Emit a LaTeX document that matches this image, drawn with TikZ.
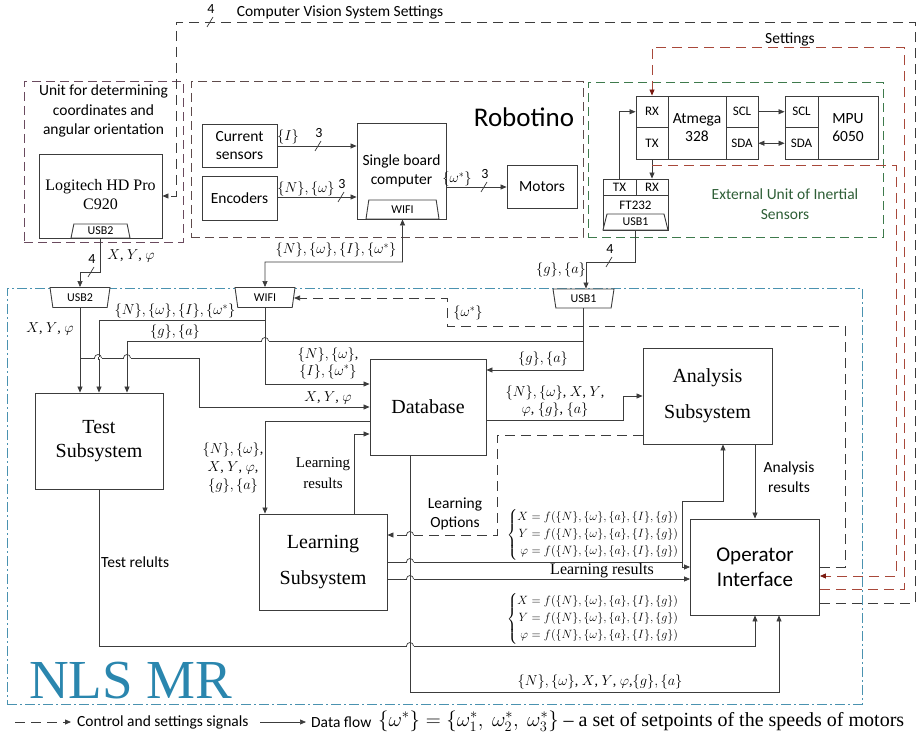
\documentclass[tikz,border=0pt]{standalone}
\usepackage{fontspec}
\usepackage{amsmath}
\setmainfont{Liberation Serif}
\setsansfont{Carlito}
\usepackage{tikz}
\usetikzlibrary{positioning}
\usetikzlibrary{arrows.meta}
\usetikzlibrary{shapes.geometric}
\definecolor{wire}{HTML}{3C3C3C}
\definecolor{unitcol}{HTML}{6A4A5E}
\definecolor{robcol}{HTML}{5E4A4A}
\definecolor{extcol}{HTML}{3E7A4C}
\definecolor{exttext}{HTML}{2E5E36}
\definecolor{nlscol}{HTML}{4A92B0}
\definecolor{nlstext}{HTML}{2A86AE}
\definecolor{setcol}{HTML}{A8483A}
\definecolor{settip}{HTML}{7A1A10}
\newcommand \fsz [2] {\fontsize{#1}{#2}\selectfont}
\newcommand \busmark [4] {
	\draw [wire, line width=0.7pt] (#1-3,#2+5) -- (#1+3,#2-5) ;
	\node [font=\sffamily\fsz{14}{16}, inner sep=0pt] (#4) at (#1+1,#2-13) {#3} ;
}
\newcommand \hop [2] {
	\fill [white] (#1-3.5,#2-1.2) rectangle (#1+3.5,#2+1.2) ;
	\draw [wire, line width=0.7pt] (#1,#2-1.5) -- (#1,#2+1.5) ;
	\draw [wire, line width=0.7pt] (#1-3.5,#2) arc [start angle=180, end angle=360, radius=3.5] ;
}
\newcommand \feqs {$\left\{\begin{aligned}
	X&=f(\{N\},\{\omega\},\{a\},\{I\},\{g\})\\
	Y&=f(\{N\},\{\omega\},\{a\},\{I\},\{g\})\\
	\varphi&=f(\{N\},\{\omega\},\{a\},\{I\},\{g\})
	\end{aligned}\right.$}
\tikzset{
	box/.style={
		draw=wire,
		line width=0.9pt,
		fill=white,
		align=center,
		inner sep=0pt,
		font=\sffamily\fsz{15.5}{18}
	},
	pinbox/.style={
		box,
		font=\sffamily\fsz{13}{15}
	},
	bigbox/.style={
		box,
		font=\fsz{20}{24}
	},
	port/.style={
		trapezium,
		trapezium angle=#1,
		trapezium stretches body,
		draw=wire,
		line width=0.9pt,
		fill=white,
		inner sep=0pt,
		font=\sffamily\fsz{12}{14}
	},
	port/.default={70},
	group/.style={
		draw=#1,
		line width=0.9pt,
		dash pattern=on 9pt off 5pt
	},
	flow/.style={
		draw=wire,
		line width=0.7pt,
		-{Triangle[length=6pt,width=5pt]}
	},
	ctrl/.style={
		flow,
		line width=0.8pt,
		dash pattern=on 10pt off 6pt
	},
	setsig/.style={
		ctrl,
		draw=setcol,
		-{Triangle[length=6pt,width=5pt,color=settip]}
	},
	mlab/.style={
		font=\fsz{14}{17},
		align=center,
		inner sep=1pt
	},
	slab/.style={
		font=\sffamily\fsz{15.5}{19.5},
		align=center,
		inner sep=1pt
	}
}

\begin{document}
\begin{tikzpicture} [x=1pt, y=-1pt]
	\useasboundingbox (0,0) rectangle (921,735) ;

	\node [group=nlscol, dash pattern=on 10pt off 3pt on 2pt off 3pt, minimum width=855, minimum height=416] (nls) at (434.5,496) {} ;
	\node [group=unitcol, minimum width=159, minimum height=161] (unit) at (103.5,161.5) {} ;
	\node [group=robcol, minimum width=392, minimum height=156] (robotino) at (387,159) {} ;
	\node [group=extcol, minimum width=295, minimum height=155] (ext) at (735.5,159.5) {} ;

	\node [slab, below=3pt of unit.north] (unittext) {Unit for determining\\coordinates and\\angular orientation} ;
	\node [box, minimum width=123, minimum height=84] (logi) at (100.5,196) {} ;
	\node [font=\fsz{16}{19}, align=center] (logitext) at (100.5,195) {Logitech HD Pro\\C920} ;
	\node [port, minimum width=59, minimum height=14] (logiusb) at (100.5,231) {USB2} ;

	\node [font=\sffamily\fsz{27}{30}] (robname) at (524,117) {Robotino} ;
	\node [box, minimum width=75, minimum height=43] (cursens) at (239.5,145.5) {Current\\sensors} ;
	\node [box, minimum width=75, minimum height=44] (enc) at (239.5,198) {Encoders} ;
	\node [box, minimum width=89, minimum height=96] (sbc) at (401.5,171) {} ;
	\node [font=\sffamily\fsz{15.5}{19}, align=center] (sbctext) at (401.5,171) {Single board\\computer} ;
	\node [port, minimum width=73, minimum height=19] (sbcwifi) at (402.5,209.5) {WIFI} ;
	\node [box, minimum width=70, minimum height=43] (motors) at (542,186.5) {Motors} ;

	\node [box, minimum width=58, minimum height=63] (atmega) at (697,127.5) {Atmega\\328} ;
	\node [pinbox, minimum width=32, minimum height=31.5] (rxa) at (652,111.75) {RX} ;
	\node [pinbox, minimum width=32, minimum height=31.5] (txa) at (652,143.25) {TX} ;
	\node [pinbox, minimum width=32, minimum height=31.5] (scla) at (742,111.75) {SCL} ;
	\node [pinbox, minimum width=32, minimum height=31.5] (sdaa) at (742,143.25) {SDA} ;
	\node [box, minimum width=60, minimum height=63] (mpu) at (848,127.5) {MPU\\6050} ;
	\node [pinbox, minimum width=33, minimum height=31.5] (sclm) at (801.5,111.75) {SCL} ;
	\node [pinbox, minimum width=33, minimum height=31.5] (sdam) at (801.5,143.25) {SDA} ;
	\node [pinbox, minimum width=33, minimum height=16] (txf) at (619.5,187) {TX} ;
	\node [pinbox, minimum width=32, minimum height=16] (rxf) at (652,187) {RX} ;
	\node [box, minimum width=65, minimum height=35] (ft) at (635.5,212.5) {} ;
	\node [font=\sffamily\fsz{13}{15}, inner sep=0pt] (fttext) at (635.5,205) {FT232} ;
	\node [port=63, minimum width=65, minimum height=16] (ftusb) at (635.5,222) {USB1} ;
	\node [slab, text=exttext] (exttext) at (785,204) {External Unit of Inertial\\Sensors} ;

	\node [port=110, minimum width=60, minimum height=20] (usbb) at (80,297.5) {USB2} ;
	\node [port=110, minimum width=60, minimum height=20] (wifib) at (265,297.5) {WIFI} ;
	\node [port=110, minimum width=61, minimum height=19] (usbone) at (583.5,298.5) {USB1} ;
	\node [bigbox, minimum width=128, minimum height=96] (test) at (99,441) {Test\\Subsystem} ;
	\node [bigbox, minimum width=116, minimum height=96] (db) at (428,407) {Database} ;
	\node [bigbox, minimum width=129, minimum height=96] (anal) at (707.5,396) {Analysis\\[12pt]Subsystem} ;
	\node [bigbox, minimum width=128, minimum height=96] (learn) at (323,562) {Learning\\[12pt]Subsystem} ;
	\node [box, font=\sffamily\fsz{21}{25}, minimum width=129, minimum height=96] (oper) at (755,567) {Operator\\Interface} ;
	\node [font=\fsz{55}{60}, text=nlstext, anchor=base west, inner sep=0pt] (nlsname) at (29,698) {NLS MR} ;

	\draw [flow] (cursens.east |- 0,146) -- (sbc.west |- 0,146) ;
	\draw [flow] (enc.east |- 0,197) -- (sbc.west |- 0,197) ;
	\draw [flow] (sbc.east |- 0,187) -- (motors.west |- 0,187) ;
	\draw [flow] (txf.north) |- (rxa.west) ;
	\draw [flow] (txa.south) -- (rxf.north) ;
	\draw [flow] (scla.east) -- (sclm.west) ;
	\draw [flow, {Triangle[length=6pt,width=5pt]}-{Triangle[length=6pt,width=5pt]}] (sdaa.east) -- (sdam.west) ;

	\draw [flow] (logiusb.south) -- ++(0,34) -| (usbb.north) ;
	\draw [flow, {Triangle[length=6pt,width=5pt]}-{Triangle[length=6pt,width=5pt]}] (sbcwifi.south) |- (265,262) -- (wifib.north) ;
	\draw [flow] (ftusb.south) |- (586,262) -- (usbone.north -| 586,0) ;

	\draw [flow] (usbb.south) -- (usbb.south |- test.north) ;
	\draw [flow] (usbb.south |- 0,358) -| (199,407) -- (db.west |- 0,407) ;
	\draw [flow] (wifib.south) |- (db.west |- 0,384) ;
	\draw [flow] (wifib.south |- 0,320) -| (test.north) ;
	\draw [flow] (usbone.south) |- (db.east |- 0,370) ;
	\draw [flow] (usbone.south |- 0,341) -| (test.north -| 127,0) ;
	\draw [flow] (db.east |- 0,420) -| (623,396) -- (anal.west |- 0,396) ;
	\draw [flow] (db.west |- 0,421) -| (learn.north -| 265,0) ;
	\draw [flow] (learn.north -| 354,0) |- (db.west |- 0,434) ;
	\draw [flow] (anal.south -| 755,0) -- (oper.north -| 755,0) ;
	\coordinate (lfork) at (682,562) ;
	\draw [flow] (learn.east) -- (lfork) |- (oper.west |- 0,567) ;
	\draw [flow] (lfork) |- (723,501) -- (anal.south -| 723,0) ;
	\draw [flow] (learn.east |- 0,579) -- (oper.west |- 0,579) ;
	\draw [flow] (test.south) |- (755,646) -- (oper.south -| 755,0) ;
	\draw [flow] (db.south -| 410,0) |- (779,692) -- (oper.south -| 779,0) ;

	\draw [ctrl] (anal.west |- 0,435) -| (497,535) -- (learn.east |- 0,535) ;
	\draw [ctrl] (oper.east) -| (845,326) -| (447,298) -- (wifib.east |- 0,298) ;
	\draw [ctrl] (oper.east |- 0,603) -| (915,22) -| (logi.east -| 176,0) -- (logi.east) ;
	\coordinate (imuout) at (652,165) ;
	\draw [setsig] (imuout) -| (896,576) -- (oper.east |- 0,576) ;
	\draw [setsig] (oper.east |- 0,589) -| (904,47) -| (rxa.north) ;

	\hop{98}{358}
	\hop{127}{358}
	\hop{265}{341}
	\hop{410}{535}
	\hop{410}{562}
	\hop{410}{579}
	\hop{410}{646}

	\busmark{318}{146}{3}{bmcur}
	\busmark{341}{197}{3}{bmenc}
	\busmark{484}{187}{3}{bmmot}
	\busmark{91}{272}{4}{bmcam}
	\busmark{609}{262}{4}{bmft}
	\busmark{210}{22}{4}{bmcvs}

	\node [slab] (lblcvs) at (340,12) {Computer Vision System Settings} ;
	\node [slab] (lblset) at (790,39) {Settings} ;
	\node [mlab] (lblcur) at (288,137) {$\{I\}$} ;
	\node [mlab] (lblenc) at (306,189) {$\{N\},\{\omega\}$} ;
	\node [mlab] (lblmot) at (457,179) {$\{\omega^*\}$} ;
	\node [mlab] (lblcam) at (131,256) {$X$, $Y$, $\varphi$} ;
	\node [mlab] (lblsbc) at (336,250) {$\{N\},\{\omega\},\{I\},\{\omega^*\}$} ;
	\node [mlab] (lblft) at (561,270) {$\{g\},\{a\}$} ;
	\node [mlab] (lblusbb) at (50,329) {$X$, $Y$, $\varphi$} ;
	\node [mlab] (lblwt) at (175,311) {$\{N\},\{\omega\},\{I\},\{\omega^*\}$} ;
	\node [mlab] (lblgt) at (175,332) {$\{g\},\{a\}$} ;
	\node [mlab] (lblwd) at (328,363) {$\{N\},\{\omega\}$,\\$\{I\},\{\omega^*\}$} ;
	\node [mlab] (lblxyd) at (328,398) {$X$, $Y$, $\varphi$} ;
	\node [mlab] (lblgd) at (543,359) {$\{g\},\{a\}$} ;
	\node [mlab] (lbldan) at (555,401) {$\{N\},\{\omega\}$, $X$, $Y$,\\$\varphi$, $\{g\}$, $\{a\}$} ;
	\node [mlab, font=\fsz{14}{18}] (lbldl) at (233,468) {$\{N\},\{\omega\}$,\\$X$, $Y$, $\varphi$,\\$\{g\},\{a\}$} ;
	\node [mlab, font=\fsz{15}{21}] (lblld) at (323,473) {Learning\\results} ;
	\node [slab] (lblopt) at (455,514) {Learning\\Options} ;
	\node [mlab, font=\fsz{11.5}{14}] (lbleq1) at (593,535) {\feqs} ;
	\node [mlab, font=\fsz{16}{18}] (lbllr) at (602,571) {Learning results} ;
	\node [mlab, font=\fsz{11.5}{14}] (lbleq2) at (593,619) {\feqs} ;
	\node [mlab] (lbldo) at (600,682) {$\{N\},\{\omega\}$, $X$, $Y$, $\varphi$,$\{g\},\{a\}$} ;
	\node [slab] (lblar) at (789,477) {Analysis\\results} ;
	\node [slab, anchor=west] (lbltr) at (100,562) {Test relults} ;
	\node [mlab] (lblom) at (468,313) {$\{\omega^*\}$} ;

	\coordinate (legd0) at (15,722) ;
	\coordinate (legd1) at (71,722) ;
	\coordinate (legf0) at (260,722) ;
	\coordinate (legf1) at (306,722) ;
	\draw [ctrl] (legd0) -- (legd1) ;
	\draw [flow] (legf0) -- (legf1) ;
	\node [slab, anchor=west] (legctrl) at (76,722) {Control and settings signals} ;
	\node [slab, anchor=west] (legflow) at (310,722) {Data flow} ;
	\node [font=\fsz{20}{22}, anchor=west, inner sep=1pt] (legomega) at (377,721) {$\{\omega^*\}=\{\omega^*_1,\ \omega^*_2,\ \omega^*_3\}$ -- a set of setpoints of the speeds of motors} ;
\end{tikzpicture}
\end{document}
